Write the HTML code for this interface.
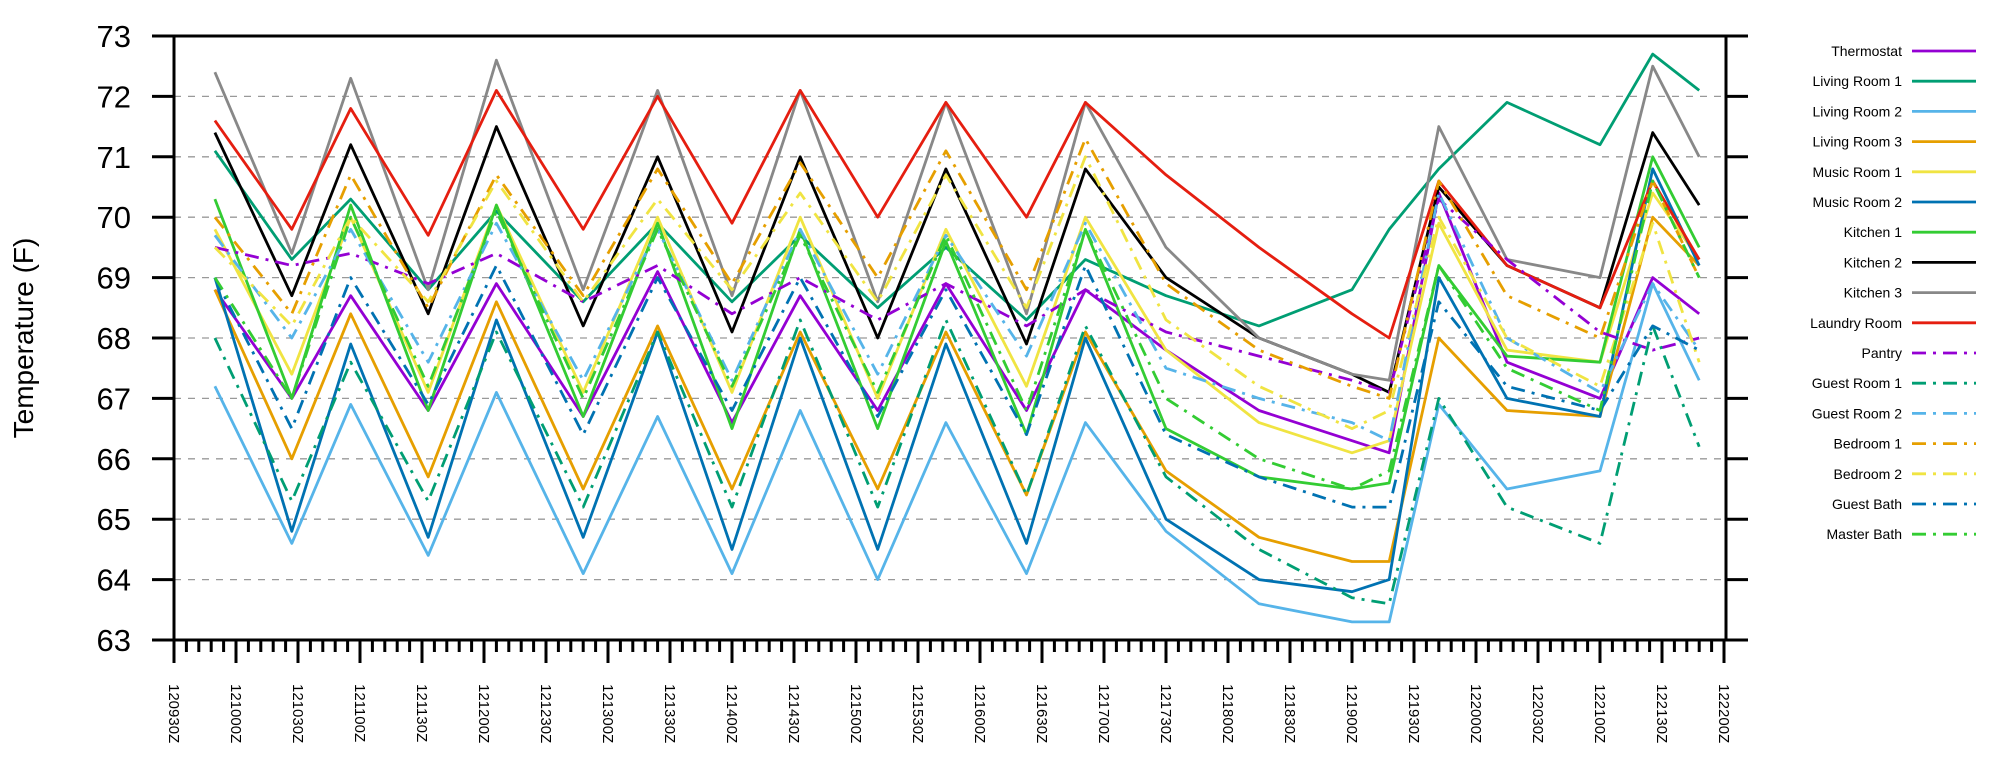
<!DOCTYPE html>
<html><head><meta charset="utf-8"><style>
html,body{margin:0;padding:0;background:#fff;}
svg{display:block;font-family:"Liberation Sans",sans-serif;}
</style></head><body>
<svg id="chart" width="2000" height="773" viewBox="0 0 2000 773" xmlns="http://www.w3.org/2000/svg">
<g id="grid"></g>
<g id="series"></g>
<g id="axes"></g>
<g id="legend"></g>
<text x="0" y="0" font-size="28" text-anchor="middle" transform="translate(33,338) rotate(-90)">Temperature (F)</text>
</svg>
<script>
const xTickLabels = ["120930Z","121000Z","121030Z","121100Z","121130Z","121200Z","121230Z","121300Z","121330Z","121400Z","121430Z","121500Z","121530Z","121600Z","121630Z","121700Z","121730Z","121800Z","121830Z","121900Z","121930Z","122000Z","122030Z","122100Z","122130Z","122200Z"];
const yTicks = [63,64,65,66,67,68,69,70,71,72,73];
const times = [0.66,1.9,2.85,4.1,5.2,6.6,7.8,9.0,10.1,11.35,12.45,13.75,14.7,16,17.5,19.0,19.6,20.4,21.5,23.0,23.85,24.6];
const seriesNames = ["Thermostat","Living Room 1","Living Room 2","Living Room 3","Music Room 1","Music Room 2","Kitchen 1","Kitchen 2","Kitchen 3","Laundry Room","Pantry","Guest Room 1","Guest Room 2","Bedroom 1","Bedroom 2","Guest Bath","Master Bath"];
const thermostat = [68.8,67.0,68.7,66.8,68.9,66.7,69.1,66.6,68.7,66.8,68.9,66.8,68.8,67.8,66.8,66.3,66.1,70.4,67.6,67.0,69.0,68.4];
const livingRoom1 = [71.1,69.3,70.3,68.8,70.1,68.6,69.9,68.6,69.7,68.5,69.5,68.3,69.3,68.7,68.2,68.8,69.8,70.8,71.9,71.2,72.7,72.1];
const livingRoom2 = [67.2,64.6,66.9,64.4,67.1,64.1,66.7,64.1,66.8,64.0,66.6,64.1,66.6,64.8,63.6,63.3,63.3,66.9,65.5,65.8,68.9,67.3];
const livingRoom3 = [68.8,66.0,68.4,65.7,68.6,65.5,68.2,65.5,68.1,65.5,68.1,65.4,68.1,65.8,64.7,64.3,64.3,68.0,66.8,66.7,70.0,69.2];
const musicRoom1 = [69.8,67.4,70.0,67.1,70.2,67.1,70.0,67.1,70.0,67.0,69.8,67.2,70.0,67.8,66.6,66.1,66.3,69.9,67.8,67.6,70.4,69.3];
const musicRoom2 = [69.0,64.8,67.9,64.7,68.3,64.7,68.1,64.5,68.0,64.5,67.9,64.6,68.0,65.0,64.0,63.8,64.0,69.0,67.0,66.7,70.8,69.2];
const kitchen1 = [70.3,67.0,70.2,66.8,70.2,66.7,69.9,66.5,69.8,66.5,69.6,66.4,69.8,66.5,65.7,65.5,65.6,69.2,67.7,67.6,71.0,69.5];
const kitchen2 = [71.4,68.7,71.2,68.4,71.5,68.2,71.0,68.1,71.0,68.0,70.8,67.9,70.8,69.0,68.0,67.4,67.1,70.5,69.2,68.5,71.4,70.2];
const kitchen3 = [72.4,69.4,72.3,68.8,72.6,68.8,72.1,68.7,72.1,68.6,71.9,68.4,71.9,69.5,68.0,67.4,67.3,71.5,69.3,69.0,72.5,71.0];
const laundryRoom = [71.6,69.8,71.8,69.7,72.1,69.8,72.0,69.9,72.1,70.0,71.9,70.0,71.9,70.7,69.5,68.4,68.0,70.6,69.2,68.5,70.6,69.3];
const pantry = [69.5,69.2,69.4,68.9,69.4,68.6,69.2,68.4,69.0,68.3,68.9,68.2,68.8,68.1,67.7,67.3,67.1,70.3,69.3,68.1,67.8,68.0];
const guestRoom1 = [68.0,65.3,67.6,65.3,68.1,65.2,68.1,65.2,68.3,65.2,68.3,65.4,68.2,65.7,64.5,63.7,63.6,67.0,65.2,64.6,68.2,66.2];
const guestRoom2 = [69.7,68.0,69.8,67.6,69.9,67.3,69.8,67.3,69.8,67.4,69.7,67.7,69.9,67.5,67.0,66.6,66.3,70.4,68.0,67.1,68.9,67.8];
const bedroom1 = [70.0,68.4,70.7,68.5,70.7,68.7,70.8,68.9,70.9,69.0,71.1,68.8,71.3,68.9,67.8,67.2,67.0,70.6,68.7,68.0,70.6,69.0];
const bedroom2 = [69.5,68.2,70.0,68.6,70.6,68.6,70.3,68.8,70.4,68.6,70.7,68.5,71.0,68.3,67.2,66.5,66.8,70.0,68.0,67.2,69.9,67.6];
const guestBath = [69.0,66.5,69.0,66.9,69.2,66.4,69.0,66.8,69.0,66.7,68.8,66.4,69.2,66.4,65.7,65.2,65.2,68.6,67.2,66.8,68.2,67.8];
const masterBath = [69.0,67.0,70.0,67.2,70.1,67.0,69.8,67.2,69.7,67.1,69.7,66.8,69.8,67.0,66.0,65.5,65.8,69.2,67.5,66.8,70.6,69.0];

const allSeries=[thermostat,livingRoom1,livingRoom2,livingRoom3,musicRoom1,musicRoom2,kitchen1,kitchen2,kitchen3,laundryRoom,pantry,guestRoom1,guestRoom2,bedroom1,bedroom2,guestBath,masterBath];
const colors=["#9400d3","#009e73","#56b4e9","#e69f00","#f0e442","#0072b2","#33cc33","#000000","#888888","#e51e10","#9400d3","#009e73","#56b4e9","#e69f00","#f0e442","#0072b2","#33cc33"];
const NS="http://www.w3.org/2000/svg";
const X0=174,X1=1726,Y0=640,YT=36;
function xScale(t){return X0+t*62;}
function yScale(v){return Y0-(v-63)*(Y0-YT)/10;}
function mk(tag,attrs,parent){const e=document.createElementNS(NS,tag);for(const k in attrs)e.setAttribute(k,attrs[k]);parent.appendChild(e);return e;}
const grid=document.getElementById('grid'),axes=document.getElementById('axes'),sg=document.getElementById('series'),lg=document.getElementById('legend');
yTicks.forEach(v=>{
  const y=yScale(v);
  if(v>63&&v<73){const g=mk('line',{x1:X0,x2:X1,y1:y,y2:y,stroke:'#999','stroke-width':1.3,'stroke-dasharray':'7,7'},grid);
  
  }
  const t=mk('line',{x1:152,x2:X0,y1:y,y2:y,stroke:'#000','stroke-width':3},axes);
  
  
  const t2=mk('line',{x1:X1,x2:1748,y1:y,y2:y,stroke:'#000','stroke-width':3},axes);
  
  
  const l=mk('text',{x:131,y:y+11,'font-size':31,'text-anchor':'end'},axes);l.textContent=v;
  
  
});
[[152,YT,1748,YT],[152,Y0,1748,Y0],[X0,YT,X0,Y0],[X1,YT,X1,Y0]].forEach(a=>{
  const e=mk('line',{x1:a[0],y1:a[1],x2:a[2],y2:a[3],stroke:'#000','stroke-width':3},axes);
  
  
});
for(let i=0;i<=125;i++){
  const x=X0+i*62/5,major=i%5===0;
  const e=mk('line',{x1:x,x2:x,y1:Y0,y2:Y0+(major?23:12),stroke:'#000','stroke-width':3},axes);
  
  
}
xTickLabels.forEach((s,i)=>{
  const x=xScale(i);
  const t=mk('text',{x:0,y:0,'font-size':15,transform:`translate(${x-5},684) rotate(90)`},axes);t.textContent=s;
  
  
});
allSeries.forEach((vals,si)=>{
  const pts=vals.map((v,i)=>xScale(times[i]).toFixed(1)+','+yScale(v).toFixed(1)).join(' ');
  const attrs={points:pts,fill:'none',stroke:colors[si],'stroke-width':2.8,'stroke-linejoin':'round'};
  if(si>=10)attrs['stroke-dasharray']='14,7,3,7';
  const p=mk('polyline',attrs,sg);
  
  
  const y=51+si*30.2;
  const t=mk('text',{x:1902,y:y+5,'font-size':14,'text-anchor':'end'},lg);t.textContent=seriesNames[si];
  
  
  const la={x1:1912,x2:1976,y1:y,y2:y,stroke:colors[si],'stroke-width':2.8};
  if(si>=10)la['stroke-dasharray']='14,7,3,7';
  const ll=mk('line',la,lg);
  
  
});
</script>
</body></html>
